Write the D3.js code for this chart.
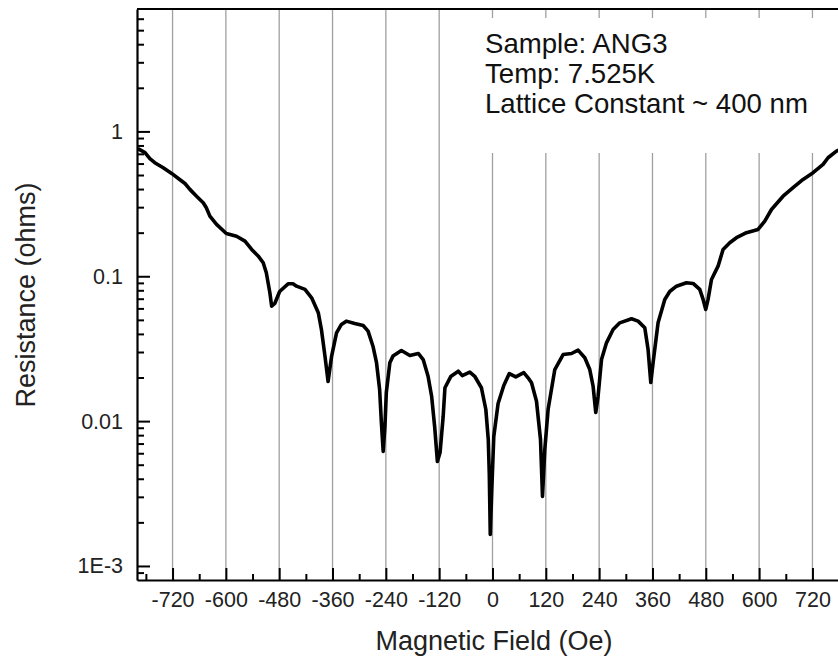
<!DOCTYPE html>
<html>
<head>
<meta charset="utf-8">
<script src="https://cdn.jsdelivr.net/npm/d3@7"></script>
<style>
  body { margin: 0; background: #fff; }
  svg { display: block; font-family: "Liberation Sans", Arial, sans-serif; }
</style>
</head>
<body>
<svg width="838" height="665"></svg>
<script>
// Data: magnetic field (Oe) and resistance (ohms)
var field = [
  -798, -782, -771, -760, -741, -722, -704, -692, -681, -666,
  -651, -644, -636, -621, -599, -576, -557, -542, -527, -516,
  -509, -501, -497, -490, -479, -460, -449, -441, -422, -407,
  -392, -385, -377, -370, -362, -351, -340, -329, -310, -291,
  -280, -269, -261, -254, -250, -246, -242, -239, -231, -224,
  -205, -186, -167, -156, -145, -137, -130, -124, -118, -111,
  -107, -94, -77, -68, -51, -40, -25, -15, -9.5, -7.2,
  -5, -1.6, 2.9, 12.6, 25.4, 37.8, 52.4, 70.4, 80.1, 87.8,
  99, 108, 112.5, 117.7, 125.1, 140.2, 158.9, 177.8, 192.6, 207.7,
  218.9, 226.4, 232.4, 237.6, 245.3, 256.5, 271.4, 286.4, 312.8, 327.6,
  342.7, 350.1, 356.2, 361.4, 372.6, 387.7, 398.9, 414, 436.5, 451.4,
  466.4, 473.9, 479.9, 485.1, 492.8, 507.6, 518.9, 533.9, 549, 571.5,
  597.6, 612.7, 627.8, 653.9, 676.4, 698.9, 721.4, 743.9, 755.1, 774,
  798
];
var resistance = [
  0.760, 0.713, 0.648, 0.608, 0.561, 0.513, 0.466, 0.437, 0.398, 0.357,
  0.322, 0.297, 0.260, 0.228, 0.1975, 0.189, 0.1748, 0.1532, 0.1376, 0.124,
  0.1057, 0.0769, 0.0622, 0.0649, 0.0785, 0.0887, 0.0887, 0.0854, 0.0811, 0.0710,
  0.0560, 0.0429, 0.0281, 0.01877, 0.0281, 0.0407, 0.0465, 0.0490, 0.0472, 0.0457,
  0.0418, 0.0329, 0.0253, 0.01653, 0.00973, 0.00617, 0.00922, 0.01568, 0.0253, 0.0281,
  0.0307, 0.0284, 0.0293, 0.0266, 0.0204, 0.01486, 0.00903, 0.00526, 0.00607, 0.0108,
  0.0170, 0.0203, 0.0221, 0.0206, 0.0218, 0.0204, 0.0170, 0.01203, 0.00746, 0.00428,
  0.00165, 0.00337, 0.00783, 0.01323, 0.0176, 0.0213, 0.0202, 0.0216, 0.0199, 0.0184,
  0.01372, 0.00746, 0.00302, 0.00637, 0.01203, 0.0227, 0.0288, 0.0293, 0.0309, 0.0274,
  0.0227, 0.0174, 0.01147, 0.01486, 0.0266, 0.0347, 0.0429, 0.0477, 0.0509, 0.0490,
  0.0441, 0.0312, 0.01848, 0.0253, 0.0477, 0.0692, 0.0785, 0.0854, 0.0902, 0.0892,
  0.0811, 0.0692, 0.0590, 0.0692, 0.0950, 0.1174, 0.1532, 0.1703, 0.1845, 0.1998,
  0.2105, 0.240, 0.289, 0.357, 0.409, 0.466, 0.519, 0.592, 0.658, 0.731,
  0.78
];

var xMajor = [-720, -600, -480, -360, -240, -120, 0, 120, 240, 360, 480, 600, 720];
var xMinor = [-780, -660, -540, -420, -300, -180, -60, 60, 180, 300, 420, 540, 660, 780];
var yMajor = [0.001, 0.01, 0.1, 1];
var yMajorLabels = ["1E-3", "0.01", "0.1", "1"];
var yMinor = [
  0.0009, 0.002, 0.003, 0.004, 0.005, 0.006, 0.007, 0.008, 0.009,
  0.02, 0.03, 0.04, 0.05, 0.06, 0.07, 0.08, 0.09,
  0.2, 0.3, 0.4, 0.5, 0.6, 0.7, 0.8, 0.9,
  2, 3, 4, 5, 6
];
var notes = ["Sample: ANG3", "Temp: 7.525K", "Lattice Constant ~ 400 nm"];

var svg = d3.select("svg");

var pLeft = 137, pRight = 848, pTop = 9, pBottom = 580;

var x = d3.scaleLinear().domain([-800, 800]).range([pLeft, pRight]);
var y = d3.scaleLog().domain([8e-4, 7]).range([pBottom, pTop]);

// vertical grid lines
svg.append("g")
  .selectAll("line")
  .data(xMajor)
  .enter()
  .append("line")
  .attr("x1", function(d) { return x(d); })
  .attr("x2", function(d) { return x(d); })
  .attr("y1", pTop)
  .attr("y2", pBottom)
  .attr("stroke", "#a0a0a0")
  .attr("stroke-width", 1.3);

// white box behind the notes
svg.append("rect")
  .attr("x", 475)
  .attr("y", 18)
  .attr("width", 400)
  .attr("height", 135)
  .attr("fill", "#fff");

// curve
svg.append("clipPath").attr("id", "clip")
  .append("rect")
  .attr("x", pLeft).attr("y", pTop)
  .attr("width", pRight - pLeft).attr("height", pBottom - pTop);

var line = d3.line()
  .x(function(d, i) { return x(field[i]); })
  .y(function(d, i) { return y(resistance[i]); });

svg.append("path")
  .datum(field)
  .attr("clip-path", "url(#clip)")
  .attr("fill", "none")
  .attr("stroke", "#000")
  .attr("stroke-width", 3.6)
  .attr("stroke-linejoin", "round")
  .attr("d", line);

// bottom axis
svg.append("g")
  .attr("transform", "translate(0," + pBottom + ")")
  .call(d3.axisBottom(x).tickValues(xMajor).tickSizeInner(-12).tickSizeOuter(0).tickPadding(12)
    .tickFormat(function(d) { return String(d); }));
svg.append("g")
  .attr("transform", "translate(0," + pBottom + ")")
  .call(d3.axisBottom(x).tickValues(xMinor).tickSizeInner(-6).tickSizeOuter(0).tickFormat(""))
  .select(".domain").remove();

// left axis
svg.append("g")
  .attr("transform", "translate(" + pLeft + ",0)")
  .call(d3.axisLeft(y).tickValues(yMajor).tickSizeInner(-13).tickSizeOuter(0).tickPadding(14)
    .tickFormat(function(d, i) { return yMajorLabels[i]; }));
svg.append("g")
  .attr("transform", "translate(" + pLeft + ",0)")
  .call(d3.axisLeft(y).tickValues(yMinor).tickSizeInner(-7).tickSizeOuter(0).tickFormat(""))
  .select(".domain").remove();

svg.selectAll(".domain").attr("stroke", "#000").attr("stroke-width", 2.2);
svg.selectAll(".tick line").attr("stroke", "#000").attr("stroke-width", 2);
svg.selectAll(".tick text")
  .attr("font-family", "'Liberation Sans', Arial, sans-serif")
  .attr("font-size", 21.5)
  .attr("fill", "#222");

// top frame line
svg.append("line")
  .attr("x1", pLeft).attr("x2", pRight)
  .attr("y1", pTop).attr("y2", pTop)
  .attr("stroke", "#000")
  .attr("stroke-width", 2.2);

// axis titles
svg.append("text")
  .attr("x", 494)
  .attr("y", 650)
  .attr("text-anchor", "middle")
  .attr("font-size", 27)
  .attr("fill", "#222")
  .text("Magnetic Field (Oe)");

svg.append("text")
  .attr("transform", "translate(35,295) rotate(-90)")
  .attr("text-anchor", "middle")
  .attr("font-size", 27)
  .attr("fill", "#222")
  .text("Resistance (ohms)");

// notes
svg.append("g")
  .selectAll("text")
  .data(notes)
  .enter()
  .append("text")
  .attr("x", 485)
  .attr("y", function(d, i) { return 53 + i * 30; })
  .attr("font-size", 27.6)
  .attr("fill", "#111")
  .text(function(d) { return d; });
</script>
</body>
</html>
